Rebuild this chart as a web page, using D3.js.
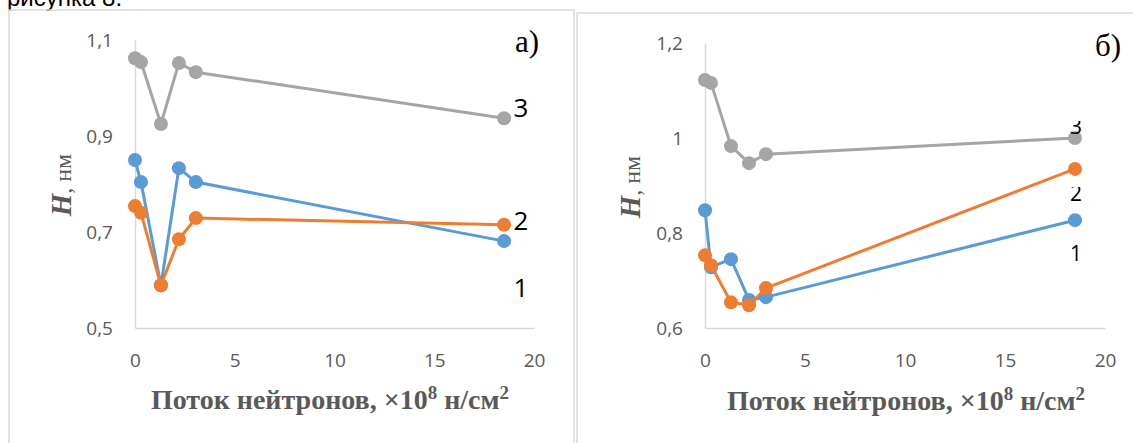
<!DOCTYPE html>
<html>
<head>
<meta charset="utf-8">
<script src="https://cdn.jsdelivr.net/npm/d3@7"></script>
<style>
  html, body { margin: 0; padding: 0; background: #ffffff; }
  svg { display: block; }
</style>
</head>
<body>
<svg id="chart" width="1133" height="443"></svg>
<script>
// Neutron fluence, ×10^8 n/cm² (shared by both panels)
const fluence = [0, 0.3, 1.3, 2.2, 3.05, 18.5];

// Panel а): H, nm for samples 1, 2, 3
const hA1 = [0.850, 0.804, 0.589, 0.833, 0.804, 0.681];
const hA2 = [0.754, 0.740, 0.589, 0.685, 0.729, 0.715];
const hA3 = [1.062, 1.054, 0.925, 1.052, 1.033, 0.937];

// Panel б): H, nm for samples 1, 2, 3
const hB1 = [0.848, 0.728, 0.745, 0.659, 0.665, 0.827];
const hB2 = [0.753, 0.732, 0.654, 0.648, 0.684, 0.935];
const hB3 = [1.122, 1.116, 0.983, 0.947, 0.966, 1.000];

const seriesNames = ["1", "2", "3"];
const xTicks = [0, 5, 10, 15, 20];
const yTicksA = [0.5, 0.7, 0.9, 1.1];
const yTicksB = [0.6, 0.8, 1.0, 1.2];
const panelTags = ["а)", "б)"];

const colors = ["#5B9BD5", "#ED7D31", "#A5A5A5"];
const tickColor = "#595959";
const gridColor = "#D9D9D9";
const tickFont = "'Open Sans', sans-serif";
const serif = "'Liberation Serif', 'DejaVu Serif', serif";

const svg = d3.select("#chart");
svg.append("rect").attr("width", 1133).attr("height", 443).attr("fill", "#fff");

// caption fragment running off the top of the page
svg.append("text")
  .attr("x", 7).attr("y", 6)
  .attr("font-family", "'Liberation Sans', Arial, sans-serif")
  .attr("font-size", 24)
  .attr("fill", "#000")
  .text("рисунка 8.");

// panel frames
svg.append("rect").attr("x", 9).attr("y", 10).attr("width", 565).attr("height", 460)
  .attr("fill", "none").attr("stroke", gridColor).attr("stroke-width", 1.5);
svg.append("rect").attr("x", 577).attr("y", 13).attr("width", 600).attr("height", 460)
  .attr("fill", "none").attr("stroke", gridColor).attr("stroke-width", 1.5);

const fmt = v => d3.format(".1~f")(v).replace(".", ",");

function drawPanel(cfg) {
  const x = d3.scaleLinear().domain([0, 20]).range([cfg.x0, cfg.x1]);
  const y = d3.scaleLinear().domain(cfg.yDomain).range([cfg.yBottom, cfg.yTop]);
  const g = svg.append("g");

  // y axis
  const ya = g.append("g")
    .attr("transform", `translate(${cfg.x0},0)`)
    .call(d3.axisLeft(y).tickValues(cfg.yTicks).tickFormat(fmt).tickSize(0).tickSizeOuter(0).tickPadding(22));
  // x axis
  const xa = g.append("g")
    .attr("transform", `translate(0,${cfg.yBottom})`)
    .call(d3.axisBottom(x).tickValues(xTicks).tickFormat(d3.format("d")).tickSize(0).tickSizeOuter(0).tickPadding(26));
  [ya, xa].forEach(a => {
    a.select(".domain").attr("stroke", gridColor).attr("stroke-width", 1.5);
    a.selectAll("text").attr("fill", tickColor).attr("font-family", tickFont).attr("font-size", 19);
  });

  // series lines + markers
  const line = d3.line().x((d, i) => x(fluence[i])).y(d => y(d));
  cfg.series.forEach((vals, s) => {
    g.append("path").datum(vals)
      .attr("d", line)
      .attr("fill", "none")
      .attr("stroke", colors[s])
      .attr("stroke-width", 3)
      .attr("stroke-linejoin", "round");
    g.selectAll(null).data(vals).enter().append("circle")
      .attr("cx", (d, i) => x(fluence[i]))
      .attr("cy", d => y(d))
      .attr("r", 7)
      .attr("fill", colors[s]);
  });

  // series number labels
  cfg.labels.forEach((lb, i) => {
    const t = g.append("text")
      .attr("x", lb.x).attr("y", lb.y)
      .attr("text-anchor", "middle")
      .attr("font-family", tickFont)
      .attr("font-size", cfg.labelSize)
      .attr("fill", "#000")
      .text(seriesNames[lb.s]);
    if (lb.clipTop !== undefined) {
      const id = `clip-${cfg.id}-${i}`;
      svg.append("clipPath").attr("id", id)
        .append("rect").attr("x", lb.x - 20).attr("y", lb.clipTop).attr("width", 40).attr("height", 60);
      t.attr("clip-path", `url(#${id})`);
    }
  });

  // panel tag
  g.append("text")
    .attr("x", cfg.tag.x).attr("y", cfg.tag.y)
    .attr("font-family", serif).attr("font-size", 31)
    .attr("fill", "#000")
    .text(cfg.tag.text);

  // y title
  const yt = g.append("text")
    .attr("transform", `translate(${cfg.yTitle.x},${cfg.yTitle.y}) rotate(-90)`)
    .attr("text-anchor", "middle")
    .attr("font-family", serif).attr("font-size", 29)
    .attr("fill", tickColor);
  yt.append("tspan").attr("font-weight", "bold").attr("font-style", "italic").text("H");
  yt.append("tspan").attr("font-size", 24).text(", нм");

  // x title
  const xt = g.append("text")
    .attr("x", cfg.xTitle.x).attr("y", cfg.xTitle.y)
    .attr("text-anchor", "middle")
    .attr("font-family", serif).attr("font-size", 28).attr("font-weight", "bold")
    .attr("fill", tickColor);
  xt.append("tspan").text("Поток нейтронов, ×10");
  xt.append("tspan").attr("font-size", 19).attr("dy", -10).text("8");
  xt.append("tspan").attr("dy", 10).text(" н/см");
  xt.append("tspan").attr("font-size", 19).attr("dy", -10).text("2");
}

drawPanel({
  id: "a",
  x0: 135, x1: 534, yTop: 40, yBottom: 328,
  yDomain: [0.5, 1.1], yTicks: yTicksA,
  series: [hA1, hA2, hA3],
  labelSize: 26,
  labels: [{ s: 2, x: 521, y: 117 }, { s: 1, x: 521, y: 230 }, { s: 0, x: 521, y: 297 }],
  tag: { x: 515, y: 52, text: panelTags[0] },
  yTitle: { x: 71, y: 185 },
  xTitle: { x: 330, y: 409 }
});

drawPanel({
  id: "b",
  x0: 705, x1: 1105, yTop: 43, yBottom: 328,
  yDomain: [0.6, 1.2], yTicks: yTicksB,
  series: [hB1, hB2, hB3],
  labelSize: 21,
  labels: [{ s: 2, x: 1076, y: 134, clipTop: 121 }, { s: 1, x: 1076, y: 201, clipTop: 187 }, { s: 0, x: 1076, y: 261 }],
  tag: { x: 1095, y: 56, text: panelTags[1] },
  yTitle: { x: 640, y: 187 },
  xTitle: { x: 906, y: 410 }
});
</script>
</body>
</html>
